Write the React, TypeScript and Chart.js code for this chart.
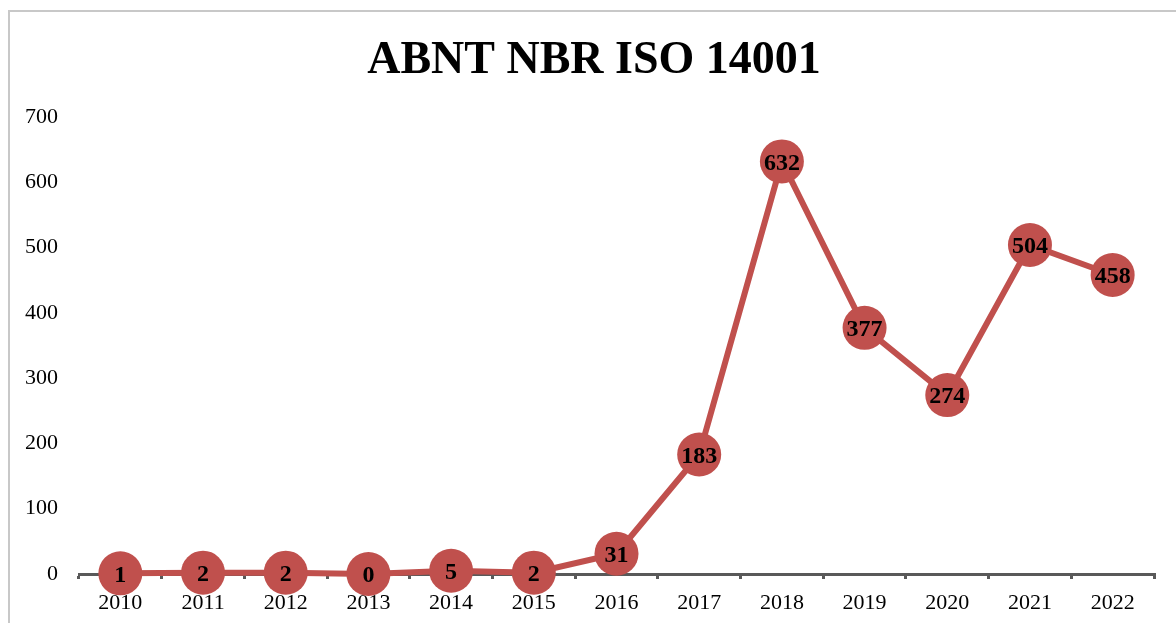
import React, { useEffect, useRef } from "react";
import { Chart, registerables } from "chart.js";

Chart.register(...registerables);

const chartTitle = "ABNT NBR ISO 14001";
const years = ["2010", "2011", "2012", "2013", "2014", "2015", "2016", "2017", "2018", "2019", "2020", "2021", "2022"];
const certificates = [1, 2, 2, 0, 5, 2, 31, 183, 632, 377, 274, 504, 458];
const yTicks = [0, 100, 200, 300, 400, 500, 600, 700];

const RED = "#C0504D";
const FONT = "'Liberation Serif', 'Times New Roman', serif";

const valueLabels = {
  id: "valueLabels",
  afterDatasetsDraw(chart: any) {
    const ctx = chart.ctx;
    const meta = chart.getDatasetMeta(0);
    ctx.save();
    ctx.font = `bold 24px ${FONT}`;
    ctx.fillStyle = "#000";
    ctx.textAlign = "center";
    ctx.textBaseline = "middle";
    meta.data.forEach((pt: any, i: number) => {
      ctx.fillText(String(certificates[i]), pt.x, pt.y + 2);
    });
    ctx.restore();
  },
};

const titleDrawer = {
  id: "titleDrawer",
  afterDraw(chart: any) {
    const ctx = chart.ctx;
    ctx.save();
    ctx.font = `bold 46px ${FONT}`;
    ctx.fillStyle = "#000";
    ctx.textAlign = "center";
    ctx.textBaseline = "alphabetic";
    ctx.fillText(chartTitle, 594, 73);
    ctx.restore();
  },
};

export default function App() {
  const ref = useRef<HTMLCanvasElement>(null);
  useEffect(() => {
    document.body.style.overflow = "hidden";
    const chart = new Chart(ref.current!, {
      type: "line",
      data: {
        labels: years,
        datasets: [
          {
            data: certificates,
            borderColor: RED,
            backgroundColor: RED,
            borderWidth: 6,
            pointRadius: 22,
            pointHoverRadius: 22,
            pointBackgroundColor: RED,
            pointBorderColor: RED,
            pointBorderWidth: 0,
            tension: 0,
            clip: false as any,
          },
        ],
      },
      options: {
        animation: false,
        responsive: false,
        maintainAspectRatio: false,
        layout: { padding: { left: 0, right: 21, top: 117, bottom: 0 } },
        plugins: {
          legend: { display: false },
          tooltip: { enabled: false },
          title: { display: false },
        },
        scales: {
          x: {
            offset: true,
            grid: {
              offset: true,
              drawOnChartArea: false,
              drawTicks: true,
              tickLength: 5,
              color: "#595959",
              lineWidth: 3,
            },
            border: { display: true, color: "#595959", width: 3 },
            ticks: {
              color: "#000",
              padding: 11,
              maxRotation: 0,
              autoSkip: false,
              font: { family: FONT, size: 22 },
            },
            afterFit: (s: any) => {
              s.height = 49;
            },
          },
          y: {
            min: 0,
            max: 700,
            grid: { display: false, drawTicks: false },
            border: { display: false },
            afterBuildTicks: (s: any) => {
              s.ticks = yTicks.map((v) => ({ value: v }));
            },
            ticks: {
              color: "#000",
              padding: 21,
              font: { family: FONT, size: 22 },
            },
            afterFit: (s: any) => {
              s.width = 79;
            },
          },
        },
      },
      plugins: [valueLabels, titleDrawer],
    });
    return () => chart.destroy();
  }, []);

  return (
    <div style={{ position: "fixed", left: 0, top: 0, width: 1176, height: 623, overflow: "hidden", background: "#fff" }}>
      <div
        style={{
          position: "absolute",
          left: 8,
          top: 10,
          width: 1300,
          height: 700,
          borderLeft: "2px solid #c8c8c8",
          borderTop: "2px solid #c8c8c8",
        }}
      />
      <canvas ref={ref} width={1176} height={623} style={{ position: "absolute", left: 0, top: 0 }} />
    </div>
  );
}
